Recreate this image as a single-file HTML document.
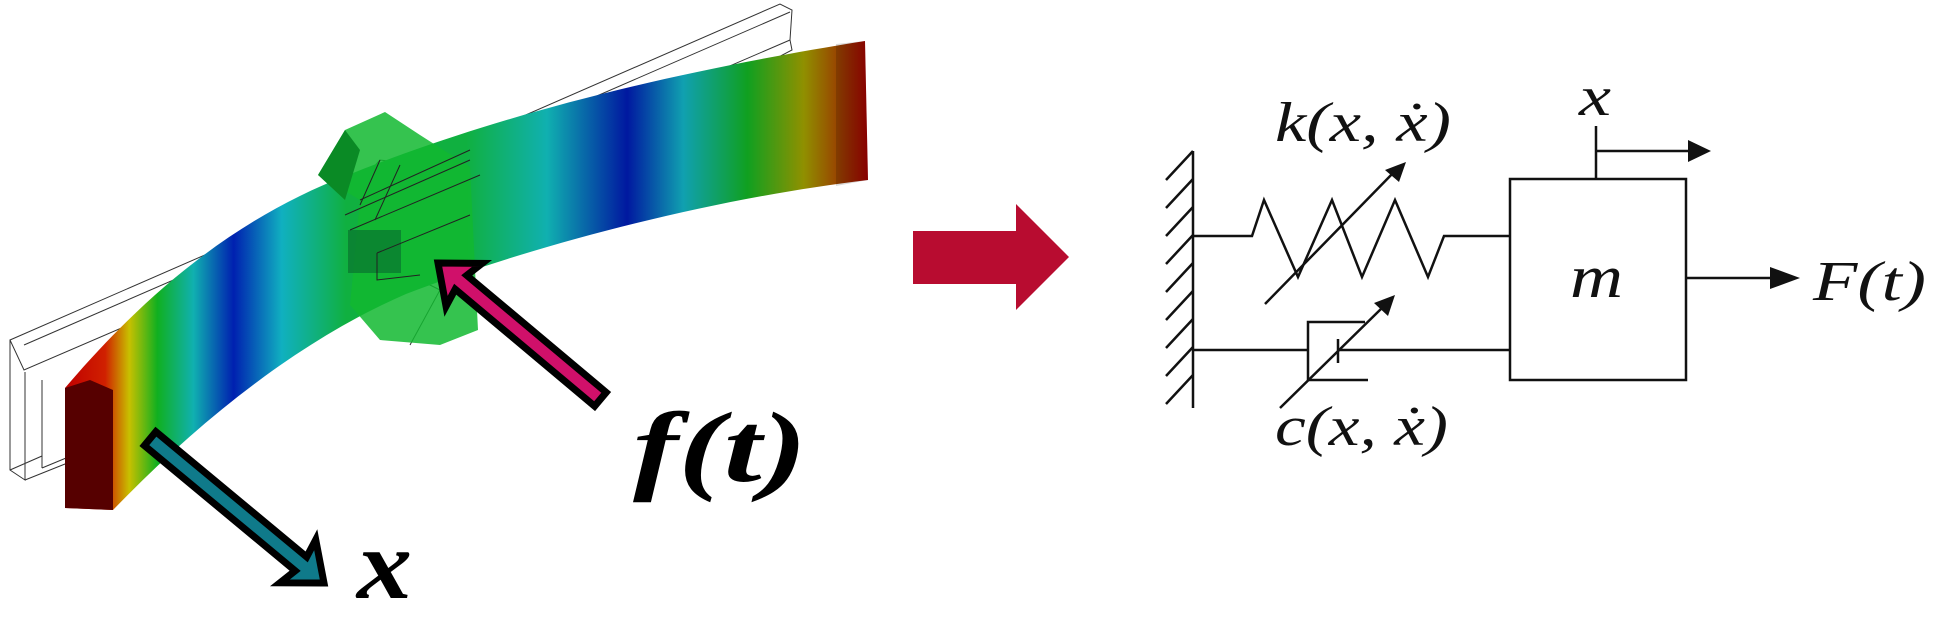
<!DOCTYPE html>
<html><head><meta charset="utf-8"><style>html,body{margin:0;padding:0;background:#fff}svg{display:block}</style></head><body>
<svg width="1936" height="637" viewBox="0 0 1936 637" xmlns="http://www.w3.org/2000/svg">
<defs>
<linearGradient id="bg" x1="65" y1="0" x2="868" y2="0" gradientUnits="userSpaceOnUse">
<stop offset="0" stop-color="#c00000"/>
<stop offset="0.05" stop-color="#d02000"/>
<stop offset="0.08" stop-color="#c8c000"/>
<stop offset="0.115" stop-color="#10b020"/>
<stop offset="0.16" stop-color="#10b0b0"/>
<stop offset="0.21" stop-color="#0020b0"/>
<stop offset="0.27" stop-color="#10b0c0"/>
<stop offset="0.35" stop-color="#10b040"/>
<stop offset="0.5" stop-color="#10b040"/>
<stop offset="0.6" stop-color="#10b0b0"/>
<stop offset="0.7" stop-color="#0018a0"/>
<stop offset="0.77" stop-color="#10a0b0"/>
<stop offset="0.85" stop-color="#10a020"/>
<stop offset="0.92" stop-color="#909000"/>
<stop offset="1" stop-color="#a00000"/>
</linearGradient>
</defs>
<g fill="none" stroke="#333" stroke-width="1">
<path d="M10,340 L780,4 L792,10 L790,40 L24,370 Z"/>
<path d="M24,345 L790,12"/>
<path d="M10,340 L10,470 L25,480 L25,372"/>
<path d="M25,480 L200,410 M42,468 L42,380 M42,468 L230,390"/>
<path d="M10,470 L42,456"/>
<path d="M790,40 L792,50 L410,250 L370,268 L240,340"/>
<path d="M400,270 L440,290 L410,345"/>
<path d="M200,300 L600,120 M215,310 L620,128"/>
<path d="M357,185 L380,160 L420,165 L440,180 L420,220 L380,240 L370,210 Z"/>
<path d="M375,250 L470,210 L478,245 L420,270 L375,285 Z"/>
</g>
<path d="M65,388 C140,300 230,220 348,175 C460,130 620,80 865,41 L868,180 C700,200 520,250 406,294 C300,340 200,420 113,510 L65,508 Z" fill="url(#bg)"/>
<path d="M65,388 L90,380 L113,390 L113,510 L65,508 Z" fill="#560000"/>
<path d="M836,44 L865,41 L868,180 L836,186 Z" fill="#000" opacity="0.15"/>
<path d="M318,175 L345,130 L385,112 L420,135 L470,167 L478,330 L440,345 L380,340 L350,305 L360,200 Z" fill="#12b830" opacity="0.85"/>
<path d="M318,175 L345,130 L360,150 L345,200 Z" fill="#0a8a25"/>
<rect x="348" y="230" width="53" height="43" fill="#0a7a30" opacity="0.8"/>
<g fill="none" stroke="#222" stroke-width="1">
<path d="M360,200 L470,150 M350,230 L480,175 M345,215 L470,160"/>
<path d="M380,160 L360,205 M400,165 L375,220"/>
<path d="M377,253 L470,215 M377,253 L377,280 L420,275"/>
</g>
<g transform="translate(438,263) rotate(40)">
<path d="M0,0 L34,-28 L30,-9 L212,-9 L212,9 L30,9 L34,28 Z" fill="#d0106a" stroke="#000" stroke-width="7" stroke-linejoin="miter"/>
</g>
<g transform="translate(324,583) rotate(-140.3)">
<path d="M0,0 L34,-28 L30,-9 L226,-9 L226,9 L30,9 L34,28 Z" fill="#0f7a8a" stroke="#000" stroke-width="7"/>
</g>
<text x="633" y="481" font-family="Liberation Serif, serif" font-style="italic" font-weight="bold" font-size="100" textLength="174" lengthAdjust="spacingAndGlyphs">f(t)</text>
<text x="357" y="598" font-family="Liberation Serif, serif" font-style="italic" font-weight="bold" font-size="100" textLength="55" lengthAdjust="spacingAndGlyphs">x</text>
<path d="M913,231 L1016,231 L1016,204 L1069,257 L1016,310 L1016,284 L913,284 Z" fill="#b80c30"/>
<g stroke="#111" stroke-width="2.5" fill="none">
<line x1="1193" y1="151" x2="1193" y2="408"/>
<path d="M1166,180 L1193,151 M1166,208 L1193,179 M1166,236 L1193,207 M1166,264 L1193,235 M1166,292 L1193,263 M1166,320 L1193,291 M1166,348 L1193,319 M1166,376 L1193,347 M1166,404 L1193,375"/>
<path d="M1193,236 L1252,236 L1264,200 L1298,277 L1332,200 L1362,277 L1395,200 L1428,277 L1444,236 L1510,236"/>
<rect x="1510" y="179" width="176" height="201"/>
<path d="M1596,179 L1596,126 M1596,151 L1690,151"/>
<path d="M1686,278 L1775,278"/>
<path d="M1193,350 L1308,350 M1365,322 L1308,322 L1308,380 L1368,380 M1338,339 L1338,363 M1338,350 L1510,350"/>
<path d="M1265,304 L1396,170"/>
<path d="M1280,408 L1384,306"/>
</g>
<g fill="#111">
<path d="M1711,151 L1688,140 L1688,162 Z"/>
<path d="M1800,278 L1770,267 L1770,289 Z"/>
<path d="M1406,162 L1385,170 L1399,182 Z"/>
<path d="M1395,295 L1374,303 L1388,316 Z"/>
</g>
<g font-family="Liberation Serif, DejaVu Serif, serif" font-style="italic" fill="#111">
<text x="1275" y="141" font-size="56" textLength="176" lengthAdjust="spacingAndGlyphs">k(x, &#x1E8B;)</text>
<text x="1275" y="445" font-size="56" textLength="173" lengthAdjust="spacingAndGlyphs">c(x, &#x1E8B;)</text>
<text x="1579" y="115" font-size="56" textLength="32" lengthAdjust="spacingAndGlyphs">x</text>
<text x="1570" y="297" font-size="60" textLength="53" lengthAdjust="spacingAndGlyphs">m</text>
<text x="1813" y="300" font-size="56" textLength="113" lengthAdjust="spacingAndGlyphs">F(t)</text>
</g>
</svg>
</body></html>
